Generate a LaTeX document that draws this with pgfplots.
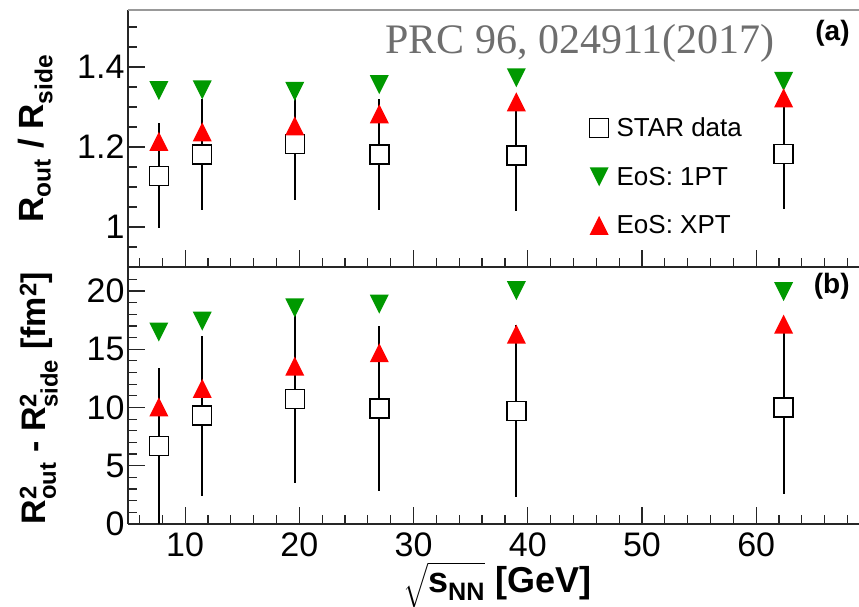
\documentclass[border=0pt]{standalone}
\usepackage{fontspec}
\setmainfont{Liberation Sans}
\newfontfamily\prcfont{Liberation Serif}
\usepackage{amsmath}
\usepackage{pgfplots}
\pgfplotsset{compat=1.18}
\definecolor{rgreen}{RGB}{0,153,0}
\definecolor{prcgray}{RGB}{110,110,110}
\pgfdeclareplotmark{tup}{%
  \pgfpathmoveto{\pgfqpoint{0pt}{\pgfplotmarksize}}%
  \pgfpathlineto{\pgfqpoint{-\pgfplotmarksize}{-\pgfplotmarksize}}%
  \pgfpathlineto{\pgfqpoint{\pgfplotmarksize}{-\pgfplotmarksize}}%
  \pgfpathclose\pgfusepathqfill}
\pgfdeclareplotmark{tdown}{%
  \pgfpathmoveto{\pgfqpoint{0pt}{-\pgfplotmarksize}}%
  \pgfpathlineto{\pgfqpoint{-\pgfplotmarksize}{\pgfplotmarksize}}%
  \pgfpathlineto{\pgfqpoint{\pgfplotmarksize}{\pgfplotmarksize}}%
  \pgfpathclose\pgfusepathqfill}

\pgfplotstableread{
x     y      e
7.7   1.128  0.131
11.5  1.181  0.139
19.6  1.208  0.140
27    1.181  0.139
39    1.179  0.139
62.4  1.183  0.139
}\starA
\pgfplotstableread{
x     y
7.7   1.341
11.5  1.343
19.6  1.339
27    1.356
39    1.373
62.4  1.364
}\onePTA
\pgfplotstableread{
x     y
7.7   1.214
11.5  1.238
19.6  1.253
27    1.283
39    1.313
62.4  1.323
}\xPTA
\pgfplotstableread{
x     y      e
7.7   6.68   6.75
11.5  9.31   6.87
19.6  10.74  7.25
27    9.91   7.10
39    9.68   7.37
62.4  10.00  7.46
}\starB
\pgfplotstableread{
x     y
7.7   16.48
11.5  17.41
19.6  18.55
27    18.87
39    20.03
62.4  19.94
}\onePTB
\pgfplotstableread{
x     y
7.7   10.05
11.5  11.64
19.6  13.55
27    14.70
39    16.30
62.4  17.16
}\xPTB

\begin{document}
\begin{tikzpicture}
\useasboundingbox (-128pt,-83pt) rectangle (731pt,524pt);
\pgfplotsset{
  common/.style={
    scale only axis, width=731pt, height=257pt,
    xmin=5, xmax=69,
    axis x line*=bottom, axis y line*=left,
    x axis line style={-}, y axis line style={-},
    axis line style={line width=1.5pt, black!85},
    tick align=inside,
    major tick length=17pt, minor tick length=9pt,
    tick style={line width=1.2pt, black!85},
    xtick={10,20,30,40,50,60},
    minor xtick={6,8,...,68},
    tick label style={font=\fontsize{34}{40}\selectfont},
    /pgf/number format/assume math mode=true,
    legend image code/.code={\draw[##1, mark repeat=1] plot coordinates {(0pt,0pt)};},
  },
  star/.style={only marks, mark=square*, mark size=9.5pt,
    mark options={fill=white, draw=black, line width=1.5pt},
    error bars/.cd, y dir=both, y explicit, error mark=none,
    error bar style={line width=2.2pt, black}},
  one/.style={only marks, mark=tdown, mark size=9.5pt, color=rgreen},
  xpt/.style={only marks, mark=tup, mark size=9.5pt, color=red},
}

% bottom panel (b)
\begin{axis}[common, at={(0pt,0pt)},
  ymin=0, ymax=22.06,
  ytick={0,5,10,15,20},
  minor ytick={0,1,...,22},
  xticklabel style={inner sep=0pt, yshift=-9pt},
  xlabel={$\sqrt{\textbf{s}_{\textbf{NN}}}$ \textbf{[GeV]}},
  xlabel style={font=\fontsize{36}{42}\selectfont, inner sep=0pt, at={(axis description cs:0.505,-0.238)}, anchor=center},
  ylabel={\bfseries R$^{\textbf{2}}_{\textbf{out}}$ - R$^{\textbf{2}}_{\textbf{side}}$ [fm$^{\textbf{2}}$]},
  ylabel style={font=\fontsize{34}{40}\selectfont, at={(axis description cs:-0.122,0.49)}, anchor=center, rotate=0},
]
\addplot[star] table[x=x, y=y, y error=e] {\starB};
\addplot[one] table[x=x, y=y] {\onePTB};
\addplot[xpt] table[x=x, y=y] {\xPTB};
\node[anchor=east, font=\fontsize{28}{32}\selectfont\bfseries] at (rel axis cs:0.992,0.925) {(b)};
\end{axis}

% top panel (a)
\begin{axis}[common, at={(0pt,257pt)},
  ymin=0.9, ymax=1.5425,
  ytick={1,1.2,1.4},
  minor ytick={0.95,1.05,1.1,1.15,1.25,1.3,1.35,1.45,1.5},
  xticklabels={},
  ylabel={\bfseries R$_{\textbf{out}}$ / R$_{\textbf{side}}$},
  ylabel style={font=\fontsize{35}{40}\selectfont, at={(axis description cs:-0.127,0.5)}, anchor=center, rotate=0},
  legend style={draw=none, fill=none, at={(axis cs:45.4,1.279)}, anchor=north west,
    font=\fontsize{26}{30}\selectfont, row sep=25pt, inner sep=0pt, column sep=6pt,
    nodes={inner sep=2pt}},
  legend cell align=left,
]
\draw[black!40, line width=1.5pt] (rel axis cs:0,1) -- (rel axis cs:1,1);
\addplot[star] table[x=x, y=y, y error=e] {\starA};
\addlegendentry{STAR data}
\addplot[one] table[x=x, y=y] {\onePTA};
\addlegendentry{EoS: 1PT}
\addplot[xpt] table[x=x, y=y] {\xPTA};
\addlegendentry{EoS: XPT}
\node[anchor=east, font=\fontsize{28}{32}\selectfont\bfseries] at (rel axis cs:0.992,0.91) {(a)};
\node[anchor=base west, text=prcgray, font=\fontsize{42}{48}\prcfont, inner sep=0pt] at (rel axis cs:0.352,0.83) {PRC 96, 024911(2017)};
\end{axis}
\end{tikzpicture}
\end{document}
